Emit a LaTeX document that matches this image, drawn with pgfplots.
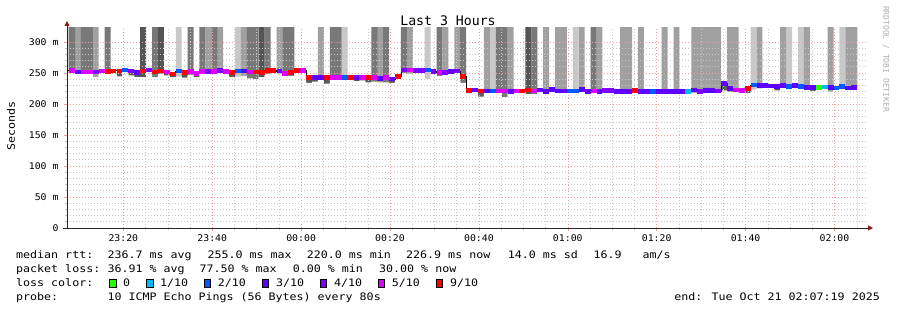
\documentclass[border=0pt]{standalone}
\usepackage{pgfplots}
\pgfplotsset{compat=1.18}
\usepackage{pgfplotstable}
\usetikzlibrary{arrows.meta}
\usepackage{fontspec}
\newfontfamily\dvm{DejaVu Sans Mono}
\newfontfamily\dvmw[FakeStretch=1.13]{DejaVu Sans Mono}
\newfontfamily\dvmt[FakeStretch=1.07]{DejaVu Sans Mono}
\newcommand\lgf{\dvmw\fontsize{10.3bp}{13bp}\selectfont}
\newcommand\tkf{\dvmt\fontsize{9.2bp}{11bp}\selectfont}
\newcommand\ttlf{\dvm\fontsize{13.2bp}{15bp}\selectfont}
\newcommand\wmf{\dvm\fontsize{8bp}{9bp}\selectfont}
\definecolor{lcG}{HTML}{26FF00}
\definecolor{lcC}{HTML}{00B8FF}
\definecolor{lcB}{HTML}{0059FF}
\definecolor{lcV}{HTML}{5E00FF}
\definecolor{lcP}{HTML}{7E00FF}
\definecolor{lcM}{HTML}{DD00FF}
\definecolor{lcR}{HTML}{FF0000}
\definecolor{smA}{HTML}{C8C8C8}
\definecolor{smB}{HTML}{A0A0A0}
\definecolor{smC}{HTML}{787878}
\definecolor{smD}{HTML}{555555}
\definecolor{smE}{HTML}{5A5A5A}
\definecolor{mgrid}{HTML}{F4A0A0}
\definecolor{ngrid}{HTML}{C8C8C8}
\definecolor{arrowred}{HTML}{8B1A1A}
\definecolor{wmgray}{HTML}{B0B0B0}
\pgfdeclareplotmark{band}{\pgfpathrectangle{\pgfpoint{-2.97bp}{-2.25bp}}{\pgfpoint{5.93bp}{4.5bp}}\pgfusepathqfill}
\setlength\fboxsep{0pt}
\setlength\fboxrule{0.8bp}
\newcommand\sq[1]{\fcolorbox{black}{#1}{\rule{0pt}{7bp}\rule{5.8bp}{0pt}}}
\pgfplotsset{frame/.style={at={(67bp,82bp)}, anchor=south west,
  scale only axis, width=800bp, height=200bp,
  xmin=7.32, xmax=187.32, ymin=0, ymax=322.58}}

% t = minutes after 23:00 (step centre), low = lowest smoke, s = smoke shade code, med = median rtt (ms), c = loss colour
\pgfplotstableread{
t low s med c
7.12 250 1 254.8 B
8.46 250 3 254 M
9.79 249.5 2 252 V
11.12 250 3 251.6 M
12.46 250 3 251.6 M
13.79 243.5 2 251.6 P
15.13 252 0 253.5 M
16.46 250 3 252.7 R
17.79 253 0 253.5 R
19.13 244.5 5 253.5 R
20.46 254 0 254.8 B
21.79 246 5 253.2 P
23.13 243.5 5 251 V
24.46 243.5 4 253.5 R
25.79 254 0 255 P
27.13 243.5 3 251.6 R
28.46 249 4 253.5 R
29.79 246 5 251.6 M
31.13 243.5 5 248.4 R
32.46 244 1 253.2 B
33.79 242.5 5 251 R
35.13 247 3 252.2 M
36.46 243.5 5 249.5 M
37.79 249 3 252.2 M
39.13 249 2 252.2 P
40.46 249 3 252.2 M
41.79 251 2 254.3 P
43.13 252 0 252.2 M
44.46 243.5 5 250.5 R
45.79 244 1 253.2 B
47.13 245.5 2 253.2 V
48.46 241.5 3 251.6 M
49.79 240 3 251.6 R
51.13 243.5 4 250.5 R
52.46 248 3 254.3 R
53.79 253 0 254.3 R
55.13 249 2 253.2 P
56.46 245 3 249.5 M
57.79 245 3 250.5 R
59.13 251 0 253.8 R
60.46 251 0 253.8 M
61.79 234 5 242.5 R
63.13 236 5 242.5 V
64.46 240 2 242.5 V
65.79 233 5 242.5 R
67.13 239 3 242.5 M
68.46 240 3 242.5 M
69.79 241 1 242.5 B
71.13 242 0 242.5 R
72.46 237 5 242.5 V
73.79 238 5 242.5 M
75.13 235 5 242.5 R
76.46 236 3 242.5 M
77.79 235 2 241.4 V
79.13 235 3 242.5 M
80.46 234 5 240.3 V
81.79 240 5 244.6 R
83.13 250 3 254.8 P
84.46 249 2 254.8 M
85.79 250 5 254.3 P
87.13 252 0 253.8 P
88.46 240.5 1 254.8 B
89.79 252 0 252.2 P
91.13 245 3 251 M
92.46 247 2 251 P
93.79 251 0 252.2 V
95.13 250 2 253.2 P
96.46 234 3 244.1 R
97.79 221 0 221.9 R
99.13 221 0 222.4 V
100.46 212 5 221.3 R
101.79 219 2 221.3 V
103.13 219 1 221.3 B
104.46 219 3 221.3 M
105.79 211 3 221.3 M
107.13 217 2 219.9 V
108.46 220 0 221.3 M
109.79 220 0 221.3 R
111.13 216 4 222.4 R
112.46 216 3 221.3 M
113.79 221 0 222.4 V
115.13 218 2 219.9 V
116.46 221 5 223.5 V
117.79 219 2 221.3 V
119.13 219 2 221.3 V
120.46 220 0 221.3 B
121.79 219 1 221.3 B
123.13 220 2 223 V
124.46 219 0 219.9 V
125.79 220 3 221.3 M
127.13 218 2 219.9 V
128.46 220 0 221.8 P
129.79 220 0 221.8 P
131.13 219 0 220.4 V
132.46 218 2 219.9 V
133.79 218 2 219.9 V
135.13 221 0 221.8 R
136.46 218 2 219.9 V
137.79 219 0 219.9 V
139.13 218 5 219.9 B
140.46 219 0 219.9 V
141.79 218 2 219.9 V
143.13 219 0 220.4 V
144.46 218 2 219.9 V
145.79 219 5 220.4 V
147.13 217 5 219.9 C
148.46 218 2 222.5 V
149.79 218 2 220.4 P
151.13 219 2 221.8 V
152.46 219 2 221.8 V
153.79 218 2 220.9 P
155.13 222 5 233.3 V
156.46 219 2 224.7 V
157.79 219 2 222.4 M
159.13 219 0 221.9 M
160.46 218 5 224.7 R
161.79 223 1 230.6 B
163.13 225 2 229.5 V
164.46 228 0 229.5 V
165.79 228 0 229 V
167.13 222 5 227.9 V
168.46 227 2 229.5 V
169.79 226 1 228.5 B
171.13 228 0 229.5 V
172.46 226 1 228.5 B
173.79 225 2 227 V
175.13 221 5 227 V
176.46 222 0 227 G
177.79 224 0 227.5 C
179.13 220 2 227 V
180.46 224 0 226 B
181.79 224 1 228 B
183.13 224 2 225.8 V
184.46 226 2 226.9 V
}\smoke

\begin{document}
\begin{tikzpicture}
\path[use as bounding box, fill=white] (0bp,0bp) rectangle (897bp,310bp);
\begin{axis}[
  frame,
  axis x line*=bottom, axis y line*=left,
  axis line style={draw=black!85, line width=0.8bp},
  x axis line style={-{Triangle[length=5bp,width=5bp,color=arrowred]}, shorten >=-6bp, shorten <=-4bp},
  y axis line style={-{Triangle[length=5bp,width=5bp,color=arrowred]}, shorten >=-7bp},
  xtick={20,40,...,180},
  xticklabels={23:20,23:40,00:00,00:20,00:40,01:00,01:20,01:40,02:00},
  minor x tick num=3,
  ytick={0,50,...,300},
  yticklabels={0,50 m,100 m,150 m,200 m,250 m,300 m},
  minor y tick num=4,
  grid=both,
  major grid style={draw=mgrid, line width=0.6bp, dash pattern=on 1bp off 2bp},
  minor grid style={draw=ngrid, line width=0.6bp, dash pattern=on 1bp off 2bp},
  tick align=outside,
  major tick length=3bp, minor tick length=2bp,
  major tick style={draw=mgrid, line width=0.6bp},
  minor tick style={draw=ngrid, line width=0.6bp},
  axis on top,
  ticklabel style={font=\tkf, text=black},
  xticklabel style={yshift=-0.5bp},
  yticklabel style={xshift=-2bp},
]
\addplot[ybar, bar width=1.3333, bar shift=0pt, fill=smA, draw=none] table[x=t, y expr={\thisrow{s}==1 ? 330 : 0}] {\smoke};
\addplot[ybar, bar width=1.3333, bar shift=0pt, fill=smB, draw=none] table[x=t, y expr={\thisrow{s}==2 ? 330 : 0}] {\smoke};
\addplot[ybar, bar width=1.3333, bar shift=0pt, fill=smC, draw=none] table[x=t, y expr={\thisrow{s}==3 ? 330 : 0}] {\smoke};
\addplot[ybar, bar width=1.3333, bar shift=0pt, fill=smD, draw=none] table[x=t, y expr={\thisrow{s}==4 ? 330 : 0}] {\smoke};
\addplot[ybar, bar width=1.3333, bar shift=0pt, fill=smE, draw=none] table[x=t, y expr={\thisrow{s}==5 ? \thisrow{med}+3 : 0}] {\smoke};
\addplot[ybar, bar width=1.36, bar shift=0pt, fill=white, draw=none] table[x=t, y=low] {\smoke};
\end{axis}
\begin{axis}[frame, hide axis, clip marker paths=true]
\addplot[const plot, black, line width=0.7bp] table[x expr=\thisrow{t}-0.6667, y=med] {\smoke};
\addplot[scatter, only marks, scatter src=explicit symbolic,
  scatter/classes={G={mark=band,lcG}, C={mark=band,lcC}, B={mark=band,lcB}, V={mark=band,lcV}, P={mark=band,lcP}, M={mark=band,lcM}, R={mark=band,lcR}}]
  table[x=t, y=med, meta=c] {\smoke};
\end{axis}
\node[anchor=base, inner sep=0] at (448bp,284.5bp) {\ttlf Last 3 Hours};
\node[rotate=90, inner sep=0] at (11bp,184bp) {\lgf Seconds};
\node[rotate=-90, inner sep=0, text=wmgray] at (886bp,251bp) {\wmf RRDTOOL / TOBI OETIKER};
% legend lines
\node[anchor=base west, inner sep=0] at (16bp,51.7bp) {\lgf median rtt:};
\node[anchor=base west, inner sep=0] at (107.3bp,51.7bp) {\lgf 236.7 ms avg};
\node[anchor=base west, inner sep=0] at (207.3bp,51.7bp) {\lgf 255.0 ms max};
\node[anchor=base west, inner sep=0] at (306.7bp,51.7bp) {\lgf 220.0 ms min};
\node[anchor=base west, inner sep=0] at (406bp,51.7bp) {\lgf 226.9 ms now};
\node[anchor=base west, inner sep=0] at (507.7bp,51.7bp) {\lgf 14.0 ms sd};
\node[anchor=base west, inner sep=0] at (593.3bp,51.7bp) {\lgf 16.9};
\node[anchor=base west, inner sep=0] at (642.3bp,51.7bp) {\lgf am/s};
\node[anchor=base west, inner sep=0] at (16bp,37.7bp) {\lgf packet loss:};
\node[anchor=base west, inner sep=0] at (107.3bp,37.7bp) {\lgf 36.91 \% avg};
\node[anchor=base west, inner sep=0] at (199.3bp,37.7bp) {\lgf 77.50 \% max};
\node[anchor=base west, inner sep=0] at (292.7bp,37.7bp) {\lgf 0.00 \% min};
\node[anchor=base west, inner sep=0] at (379bp,37.7bp) {\lgf 30.00 \% now};
\node[anchor=base west, inner sep=0] at (16bp,23.7bp) {\lgf loss color:};
\node[anchor=base west, inner sep=0] at (109bp,23.5bp) {\sq{lcG}};
\node[anchor=base west, inner sep=0] at (123bp,23.7bp) {\lgf 0};
\node[anchor=base west, inner sep=0] at (146bp,23.5bp) {\sq{lcC}};
\node[anchor=base west, inner sep=0] at (160bp,23.7bp) {\lgf 1/10};
\node[anchor=base west, inner sep=0] at (203.5bp,23.5bp) {\sq{lcB}};
\node[anchor=base west, inner sep=0] at (217.7bp,23.7bp) {\lgf 2/10};
\node[anchor=base west, inner sep=0] at (261.5bp,23.5bp) {\sq{lcV}};
\node[anchor=base west, inner sep=0] at (276bp,23.7bp) {\lgf 3/10};
\node[anchor=base west, inner sep=0] at (319.5bp,23.5bp) {\sq{lcP}};
\node[anchor=base west, inner sep=0] at (334bp,23.7bp) {\lgf 4/10};
\node[anchor=base west, inner sep=0] at (377.3bp,23.5bp) {\sq{lcM}};
\node[anchor=base west, inner sep=0] at (391.7bp,23.7bp) {\lgf 5/10};
\node[anchor=base west, inner sep=0] at (435.3bp,23.5bp) {\sq{lcR}};
\node[anchor=base west, inner sep=0] at (450bp,23.7bp) {\lgf 9/10};
\node[anchor=base west, inner sep=0] at (16bp,9.7bp) {\lgf probe:};
\node[anchor=base west, inner sep=0] at (107.3bp,9.7bp) {\lgf 10 ICMP Echo Pings (56 Bytes) every 80s};
\node[anchor=base east, inner sep=0] at (880bp,9.7bp) {\lgf end: Tue Oct 21 02:07:19 2025};
\end{tikzpicture}
\end{document}
